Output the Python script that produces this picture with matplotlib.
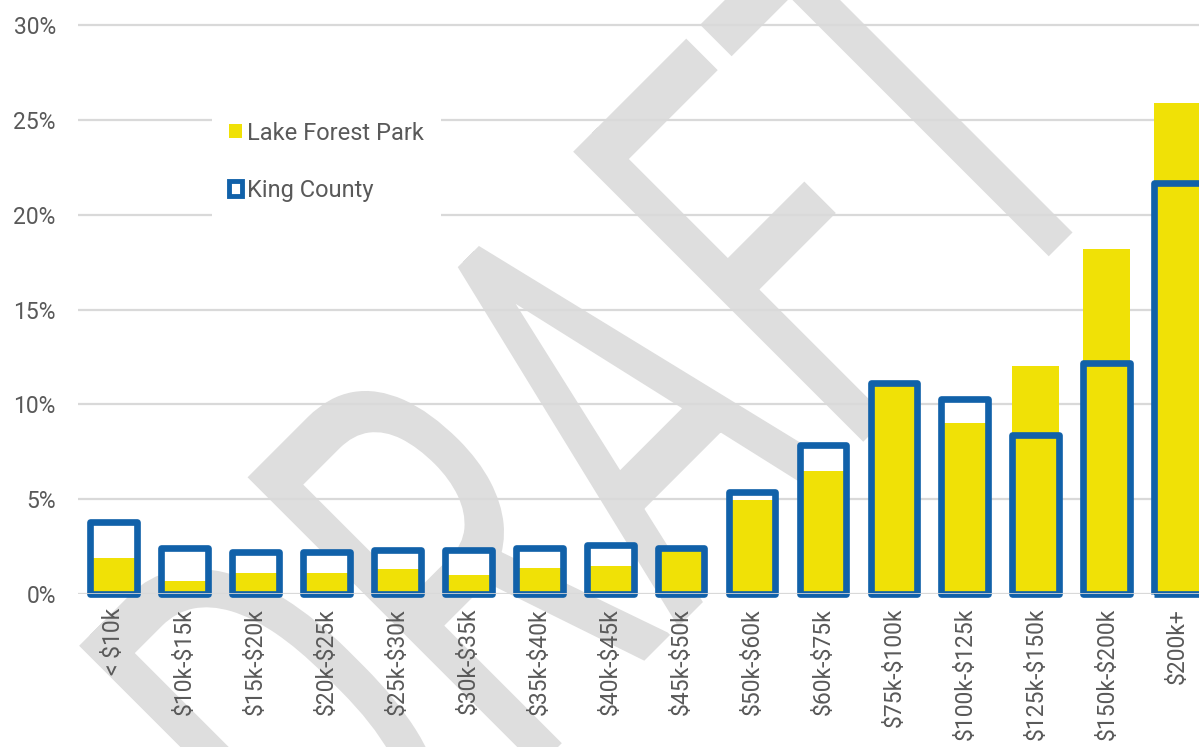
import numpy as np
import matplotlib
matplotlib.use("Agg")
import matplotlib.pyplot as plt
from matplotlib.patches import Patch, PathPatch
from matplotlib.textpath import TextPath
from matplotlib.font_manager import FontProperties
from matplotlib.transforms import Affine2D

# Household income distribution, share of households (%)
categories = ["< $10k", "$10k-$15k", "$15k-$20k", "$20k-$25k", "$25k-$30k",
              "$30k-$35k", "$35k-$40k", "$40k-$45k", "$45k-$50k", "$50k-$60k",
              "$60k-$75k", "$75k-$100k", "$100k-$125k", "$125k-$150k",
              "$150k-$200k", "$200k+"]
lake_forest_park = [1.9, 0.7, 1.1, 1.1, 1.3, 1.0, 1.35, 1.5, 2.25, 4.95,
                    6.5, 11.1, 9.0, 12.0, 18.2, 25.9]
king_county = [3.8, 2.4, 2.2, 2.2, 2.3, 2.3, 2.45, 2.6, 2.4, 5.4,
               7.85, 11.15, 10.3, 8.4, 12.2, 21.7]
yticks = [0, 5, 10, 15, 20, 25, 30]

YELLOW = "#F0E106"
BLUE = "#1161A9"
GREY_TXT = "#595959"
GRID = "#D9D9D9"

plt.rcParams["font.family"] = ["Roboto", "DejaVu Sans"]

W, H = 1199, 747
fig = plt.figure(figsize=(W / 100, H / 100), dpi=100, facecolor="white")

# DRAFT watermark behind everything
tp = TextPath((0, 0), "DRAFT", size=1, prop=FontProperties(family="Roboto"))
wm_tr = Affine2D().scale(363, 577).rotate_deg(45).translate(348, -210)
fig.add_artist(PathPatch(tp, transform=wm_tr, facecolor="#DEDEDE",
                         edgecolor="none", zorder=-1))

# axes placed in pixel terms: 0% at y=594, 5% every ~94.8 px
y0_px, per_pct = 594, 94.8 / 5
ytop = 31
left_px = 78
ax = fig.add_axes([left_px / W, 1 - y0_px / H, 1 - left_px / W, ytop * per_pct / H])
ax.set_facecolor("none")

x = np.arange(len(categories))
bw = 0.66
ax.bar(x, king_county, bw, color="white", zorder=2)
ax.bar(x, lake_forest_park, bw, color=YELLOW, zorder=3)
ax.bar(x, king_county, bw, fill=False, edgecolor=BLUE, linewidth=4.8,
       joinstyle="round", zorder=4, clip_on=False)

ax.set_xlim(-0.5, 15.3)
ax.set_ylim(0, ytop)
ax.set_yticks(yticks)
ax.set_yticklabels([f"{v}%" for v in yticks], fontsize=16.5)
ax.set_xticks(x)
# escape $ so matplotlib does not read the labels as mathtext
ax.set_xticklabels([c.replace("$", r"\$") for c in categories],
                   rotation=90, va="top", ha="center", fontsize=16.5)
ax.tick_params(axis="both", length=0, colors=GREY_TXT)
ax.tick_params(axis="y", pad=16)
ax.tick_params(axis="x", pad=10)
ax.yaxis.grid(True, color=GRID, linewidth=1.6, zorder=1)
ax.set_axisbelow(True)
ax.axhline(0, color=GRID, linewidth=1.2, zorder=5)
for s in ax.spines.values():
    s.set_visible(False)

handles = [Patch(facecolor=YELLOW, edgecolor="none"),
           Patch(facecolor="white", edgecolor=BLUE, linewidth=3.5)]
leg = ax.legend(handles, ["Lake Forest Park", "King County"], loc="upper left",
                bbox_to_anchor=(212 / W, 1 - 105 / H), bbox_transform=fig.transFigure,
                frameon=True, facecolor="white", edgecolor="none", framealpha=1,
                fancybox=False, fontsize=17, labelspacing=1.45, handlelength=0.55,
                handleheight=0.55, handletextpad=0.25, borderpad=0.7, borderaxespad=0)
for t in leg.get_texts():
    t.set_color(GREY_TXT)
leg.set_zorder(6)

fig.savefig("out.png", dpi=100, facecolor="white")
